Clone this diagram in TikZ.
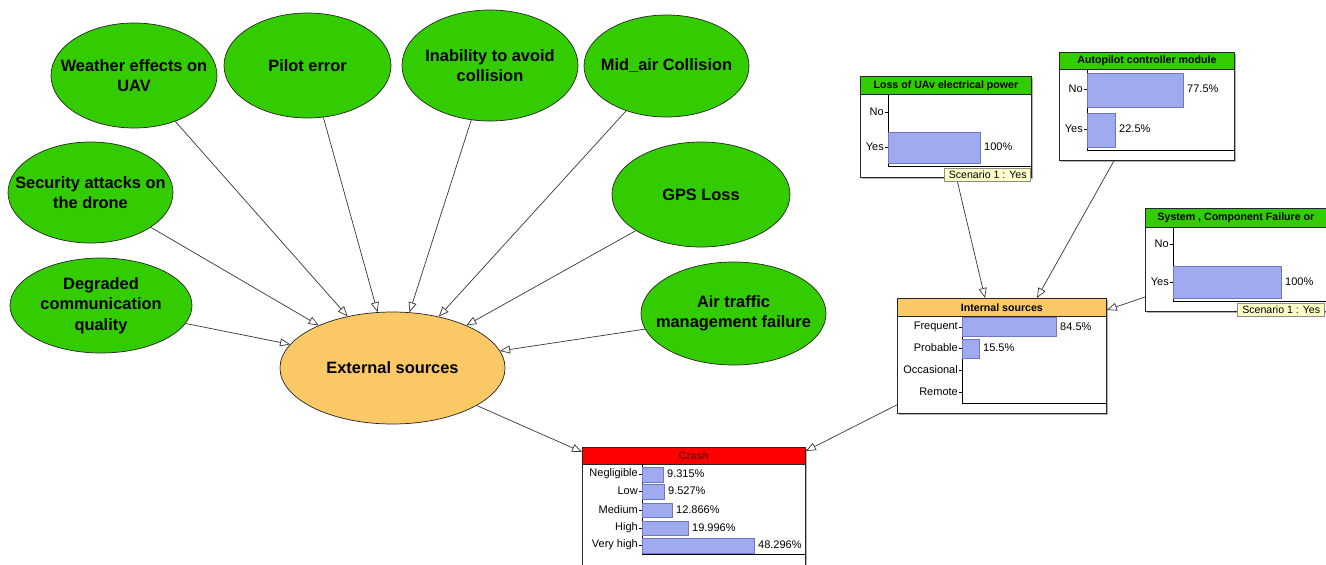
\documentclass[tikz,border=0pt]{standalone}
\usepackage{fontspec}
\setmainfont{Liberation Sans}
\usetikzlibrary{arrows.meta,shapes.geometric,calc}
\definecolor{nodegreen}{RGB}{51,204,0}
\definecolor{nodeorange}{RGB}{250,200,100}
\definecolor{barblue}{RGB}{160,170,240}
\definecolor{barline}{RGB}{110,120,190}
\definecolor{tipyellow}{RGB}{255,255,200}
\definecolor{crashred}{RGB}{255,0,0}
\definecolor{crashtext}{RGB}{120,0,0}
\definecolor{edgegray}{RGB}{55,55,55}
\begin{document}
\begin{tikzpicture}[x=1pt,y=-1pt,
  ev/.style={ellipse, draw=black!85, line width=0.7pt, fill=nodegreen, inner sep=0pt},
  evext/.style={ev, fill=nodeorange},
  evtxt/.style={inner sep=0pt, align=center, font=\fontsize{16.4}{20.3}\selectfont\bfseries},
  edge/.style={draw=edgegray, line width=0.7pt, -{Triangle[open,length=10pt,width=8pt]}},
  monbox/.style={draw=black!85, line width=0.8pt, fill=white, inner sep=0pt, anchor=north west},
  shadowbox/.style={fill=black!30},
  titlebar/.style={draw=black!85, line width=0.8pt, inner sep=0pt, anchor=north west,
    font=\fontsize{10.6}{12}\selectfont\bfseries},
  axisline/.style={draw=black, line width=0.8pt},
  tick/.style={draw=black, line width=0.6pt},
  barr/.style={fill=barblue, draw=barline, line width=0.6pt},
  lbl/.style={anchor=east, inner sep=0pt, font=\fontsize{11}{12}\selectfont},
  pct/.style={anchor=west, inner sep=0pt, font=\fontsize{11}{12}\selectfont},
  tipbox/.style={fill=tipyellow, draw=black!45, line width=0.6pt, inner sep=0pt,
    anchor=north east, minimum height=13pt, font=\fontsize{10.6}{12}\selectfont}
]
\useasboundingbox (0,0) rectangle (1326,565);
\clip (0,0) rectangle (1326,565);
\fill[white] (0,0) rectangle (1326,565);

% ---------------- ellipses ----------------
\node[ev, minimum width=166pt, minimum height=105pt] (weather) at (134,75.5) {};
\node[evtxt] (weathert) at (weather) {Weather effects on\\UAV};
\node[ev, minimum width=167pt, minimum height=105pt] (pilot) at (307.5,65.5) {};
\node[evtxt] (pilott) at (pilot) {Pilot error};
\node[ev, minimum width=176pt, minimum height=111pt] (inability) at (490,65.5) {};
\node[evtxt] (inabilityt) at (inability) {Inability to avoid\\collision};
\node[ev, minimum width=165pt, minimum height=102pt] (midair) at (666.5,66) {};
\node[evtxt] (midairt) at (midair) {Mid\_air Collision};
\node[ev, minimum width=165pt, minimum height=101pt] (security) at (90.5,192.5) {};
\node[evtxt] (securityt) at (security) {Security attacks on\\the drone};
\node[ev, minimum width=178pt, minimum height=105pt] (gps) at (701,194.5) {};
\node[evtxt] (gpst) at (gps) {GPS Loss};
\node[ev, minimum width=182pt, minimum height=95pt] (degraded) at (101,305.5) {};
\node[evtxt] (degradedt) at (degraded) {Degraded\\communication\\quality};
\node[ev, minimum width=185pt, minimum height=103pt] (airtraffic) at (733.5,313.5) {};
\node[evtxt] (airtraffict) at (airtraffic) {Air traffic\\management failure};
\node[evext, minimum width=225pt, minimum height=112pt] (external) at (392.5,368) {};
\node[evtxt] (externalt) at (external) {External sources};

% ---------------- Loss of UAv electrical power ----------------
\fill[shadowbox] (862,78) rectangle (1033,179);
\node[monbox, minimum width=171pt, minimum height=101pt] (loss) at (860,76) {};
\node[titlebar, fill=nodegreen, minimum width=171pt, minimum height=18pt] (losst) at (860,76) {Loss of UAv electrical power};
\draw[axisline] (888,94) -- (888,166) -- (1031,166);
\draw[barr] (888,132) rectangle (980,163);
\draw[tick] (885,112) -- (888,112);
\draw[tick] (885,147) -- (888,147);
\node[lbl] (lossno) at (884,112) {No};
\node[lbl] (lossyes) at (884,147) {Yes};
\node[pct] (lossp) at (984,147) {100\%};
\node[tipbox, minimum width=86pt] (tipa) at (1031,168) {Scenario 1 : Yes};

% ---------------- Autopilot controller module ----------------
\fill[shadowbox] (1061,54) rectangle (1236,162);
\node[monbox, minimum width=175pt, minimum height=108pt] (auto) at (1059,52) {};
\node[titlebar, fill=nodegreen, minimum width=175pt, minimum height=17pt] (autot) at (1059,52) {Autopilot controller module};
\draw[axisline] (1087,69) -- (1087,150) -- (1234,150);
\draw[barr] (1087,73) rectangle (1183,107);
\draw[barr] (1087,113) rectangle (1115,147);
\draw[tick] (1084,89) -- (1087,89);
\draw[tick] (1084,129) -- (1087,129);
\node[lbl] (autono) at (1083,89) {No};
\node[lbl] (autoyes) at (1083,129) {Yes};
\node[pct] (autop1) at (1187,89) {77.5\%};
\node[pct] (autop2) at (1119,129) {22.5\%};

% ---------------- System , Component Failure or ----------------
\fill[shadowbox] (1147,210) rectangle (1330,313);
\node[monbox, minimum width=181pt, minimum height=103pt] (sys) at (1145,208) {};
\node[titlebar, fill=nodegreen, minimum width=181pt, minimum height=19pt] (syst) at (1145,208) {System , Component Failure or};
\draw[axisline] (1173,227) -- (1173,301) -- (1326,301);
\draw[barr] (1173,266) rectangle (1281,298);
\draw[tick] (1170,244) -- (1173,244);
\draw[tick] (1170,282) -- (1173,282);
\node[lbl] (sysno) at (1169,244) {No};
\node[lbl] (sysyes) at (1169,282) {Yes};
\node[pct] (sysp) at (1285,282) {100\%};
\node[tipbox, minimum width=87pt] (tipb) at (1325,303) {Scenario 1 : Yes};

% ---------------- Internal sources ----------------
\fill[shadowbox] (899,300) rectangle (1108,415);
\node[monbox, minimum width=209pt, minimum height=115pt] (internal) at (897,298) {};
\node[titlebar, fill=nodeorange, minimum width=209pt, minimum height=18pt] (internalt) at (897,298) {Internal sources};
\draw[axisline] (962,316) -- (962,403) -- (1106,403);
\draw[barr] (962,317) rectangle (1056,336);
\draw[barr] (962,339) rectangle (979,358);
\foreach \yy in {327,348,370,392} \draw[tick] (959,\yy) -- (962,\yy);
\node[lbl] (intfreq) at (958,327) {Frequent};
\node[lbl] (intprob) at (958,348) {Probable};
\node[lbl] (intocc) at (958,370) {Occasional};
\node[lbl] (intrem) at (958,392) {Remote};
\node[pct] (intp1) at (1060,327) {84.5\%};
\node[pct] (intp2) at (983,348) {15.5\%};

% ---------------- Crash ----------------
\fill[shadowbox] (584,449) rectangle (807,590);
\node[monbox, minimum width=223pt, minimum height=140pt] (crash) at (582,447) {};
\node[titlebar, fill=crashred, text=crashtext, minimum width=223pt, minimum height=17pt] (crasht) at (582,447) {Crash};
\draw[axisline] (642,464) -- (642,554) -- (805,554);
\draw[barr] (642,467) rectangle (663,482);
\draw[barr] (642,484) rectangle (664,499);
\draw[barr] (642,503) rectangle (672,517);
\draw[barr] (642,521) rectangle (688,535);
\draw[barr] (642,538) rectangle (754,553);
\foreach \yy in {474,491,510,528,545} \draw[tick] (639,\yy) -- (642,\yy);
\node[lbl] (crneg) at (638,474) {Negligible};
\node[lbl] (crlow) at (638,491) {Low};
\node[lbl] (crmed) at (638,510) {Medium};
\node[lbl] (crhigh) at (638,528) {High};
\node[lbl] (crvh) at (638,545) {Very high};
\node[pct] (crp1) at (667,474) {9.315\%};
\node[pct] (crp2) at (668,491) {9.527\%};
\node[pct] (crp3) at (676,510) {12.866\%};
\node[pct] (crp4) at (692,528) {19.996\%};
\node[pct] (crp5) at (758,545) {48.296\%};

% ---------------- connectors ----------------
\draw[edge] (weather.-48) -- (external.131);
\draw[edge] (pilot.-73) -- (external.105);
\draw[edge] (inability.-109) -- (external.73);
\draw[edge] (midair.-132) -- (external.48);
\draw[edge] (security.-30) -- (external.150);
\draw[edge] (gps.-151) -- (external.30);
\draw[edge] (degraded.-12) -- (external.167);
\draw[edge] (airtraffic.-170) -- (external.9);
\draw[edge] (external.-24) -- ([yshift=-5pt]crash.north west);
\draw[edge] ([yshift=9pt]internal.south west) -- ([yshift=-4pt]crash.north east);
\draw[edge] ([xshift=13pt]tipa.south west) -- ([xshift=88pt]internal.north west);
\draw[edge] ([xshift=55pt]auto.south west) -- ([xshift=140pt]internal.north west);
\draw[edge] ([yshift=-89pt]sys.north west) -- ([yshift=-12pt]internal.north east);
\end{tikzpicture}
\end{document}
